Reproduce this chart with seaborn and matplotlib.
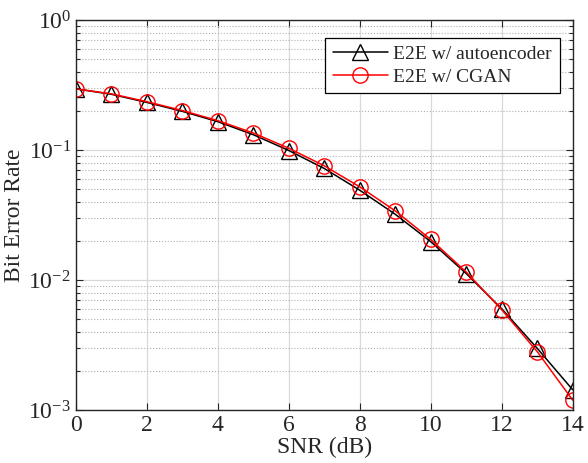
import pandas as pd
import matplotlib
matplotlib.use("Agg")
import matplotlib.pyplot as plt
import seaborn as sns
from matplotlib.ticker import LogLocator, MultipleLocator

# данные
snr = [0, 1, 2, 3, 4, 5, 6, 7, 8, 9, 10, 11, 12, 13, 14]
ber_autoencoder = [0.295, 0.268, 0.232, 0.198, 0.165, 0.131, 0.099, 0.072, 0.049, 0.032,
                   0.0197, 0.0112, 0.0060, 0.00298, 0.00143]
ber_cgan = [0.295, 0.270, 0.235, 0.201, 0.168, 0.135, 0.103, 0.0755, 0.052, 0.034,
            0.0205, 0.0115, 0.0059, 0.00281, 0.00119]
labels = ['E2E w/ autoencoder', 'E2E w/ CGAN']

df = pd.DataFrame({
    'snr': snr * 2,
    'ber': ber_autoencoder + ber_cgan,
    'method': [labels[0]] * len(snr) + [labels[1]] * len(snr),
})

sns.set_style('ticks')
plt.rcParams['font.family'] = ['Liberation Serif', 'DejaVu Serif']
plt.rcParams['mathtext.fontset'] = 'custom'
plt.rcParams['mathtext.rm'] = 'Liberation Serif'
plt.rcParams['mathtext.default'] = 'regular'

fig = plt.figure(figsize=(5.88, 4.63), dpi=100)
ax = fig.add_axes([0.129, 0.1145, 0.845, 0.8425])

sns.lineplot(data=df, x='snr', y='ber', hue='method', style='method',
             palette={labels[0]: 'black', labels[1]: 'red'},
             markers={labels[0]: '^', labels[1]: 'o'}, dashes=False,
             markersize=11, markerfacecolor='none', markeredgewidth=1.0,
             linewidth=1.1, ax=ax)

# у seaborn mfc='none' не всегда красит кромку — выставим цвета явно
for line, c in zip(ax.lines, ['black', 'red']):
    line.set_markeredgecolor(c)
    line.set_markerfacecolor('none')

ax.set_yscale('log')
ax.set_xlim(0, 14)
ax.set_ylim(1e-3, 1)
ax.xaxis.set_major_locator(MultipleLocator(2))
ax.yaxis.set_major_locator(LogLocator(base=10, numticks=10))
ax.yaxis.set_minor_locator(LogLocator(base=10, subs=range(2, 10), numticks=20))

ax.grid(True, which='major', color='#d9d9d9', linestyle='-', linewidth=0.9)
ax.grid(True, which='minor', axis='y', color='#b0b0b0', linestyle=':', linewidth=0.8)
ax.set_axisbelow(True)

ax.tick_params(which='both', direction='in', top=True, right=True, width=0.8, labelsize=17)
ax.tick_params(which='major', length=5)
ax.tick_params(which='minor', length=3)
for s in ax.spines.values():
    s.set_linewidth(1.0)
    s.set_color('#262626')

ax.set_xlabel('SNR (dB)', fontsize=17, labelpad=1)
ax.set_ylabel('Bit Error Rate', fontsize=17, labelpad=2)

handles, lbls = ax.get_legend_handles_labels()
for h, c in zip(handles, ['black', 'red']):
    h.set_markeredgecolor(c)
    h.set_markerfacecolor('none')
leg = ax.legend(handles, lbls, loc='upper right', bbox_to_anchor=(0.974, 0.954),
                fontsize=14, frameon=True, fancybox=False, edgecolor='black',
                framealpha=1, borderpad=0.4, labelspacing=0.25, handlelength=2.8,
                handletextpad=0.3, borderaxespad=0)
leg.get_frame().set_linewidth(0.9)

fig.savefig('out.png', dpi=100)
